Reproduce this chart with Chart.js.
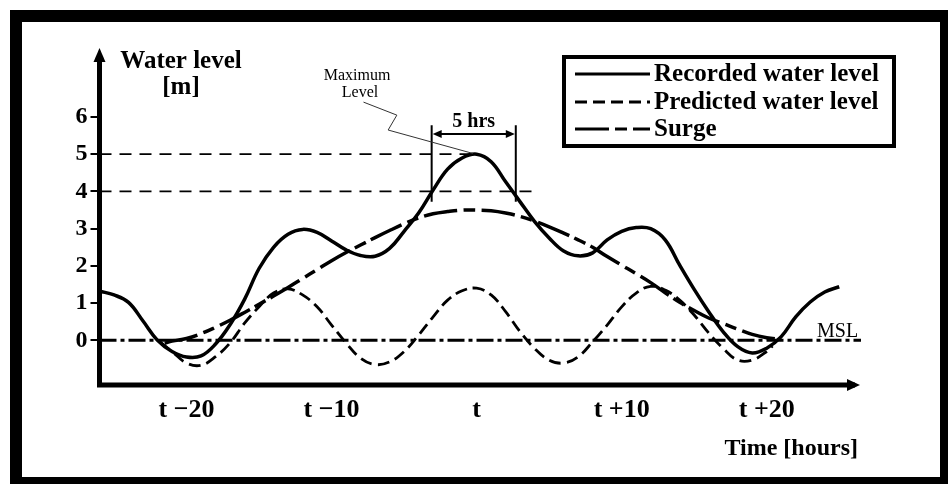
<!DOCTYPE html>
<html>
<head>
<meta charset="utf-8">
<script src="https://cdn.jsdelivr.net/npm/chart.js@4.4.1/dist/chart.umd.min.js"></script>
<style>
  html, body { margin: 0; padding: 0; background: #fff; }
  canvas { display: block; }
</style>
</head>
<body>
<canvas id="levelChart" width="948" height="484"></canvas>
<script>
// time in hours relative to t, levels in metres
const recordedHours = [-26, -25, -24, -23, -22, -21, -20, -19, -18, -17, -16, -15, -14, -13, -12, -11, -10, -9, -8, -7,
  -6, -5, -4, -3, -2, -1, 0, 1, 2, 3, 4, 5, 6, 7, 8, 9, 10, 11, 12, 13, 14, 15, 16, 17, 18, 19, 20, 21, 22, 23, 24, 25];
const recordedLevel = [1.32, 1.22, 1.02, 0.52, 0.0, -0.3, -0.45, -0.42, -0.1, 0.42, 1.1, 1.93, 2.5, 2.85, 2.98, 2.9, 2.67, 2.43, 2.28, 2.26,
  2.47, 2.93, 3.42, 4.04, 4.6, 4.9, 5.0, 4.8, 4.26, 3.72, 3.19, 2.75, 2.4, 2.27, 2.35, 2.7, 2.93, 3.03, 3.0, 2.7, 2.02, 1.37, 0.77, 0.23, -0.17, -0.34, -0.21, 0.1, 0.63, 1.03, 1.3, 1.44];

const tideHours = [-21.8, -21, -20, -19, -18, -17, -16, -15, -14, -13, -12, -11, -10, -9, -8, -7, -6, -5, -4, -3, -2, -1,
  0, 1, 2, 3, 4, 5, 6, 7, 8, 9, 10, 11, 12, 13, 14, 15, 16, 17, 18, 19, 20, 20.4];
const tideLevel = [-0.05, -0.3, -0.61, -0.67, -0.44, -0.07, 0.46, 0.9, 1.27, 1.38, 1.22, 0.9, 0.41, -0.07, -0.48, -0.65, -0.58, -0.3, 0.14, 0.63, 1.08, 1.33,
  1.4, 1.22, 0.77, 0.23, -0.22, -0.53, -0.61, -0.44, -0.04, 0.41, 0.9, 1.27, 1.45, 1.35, 1.08, 0.68, 0.2, -0.22, -0.53, -0.53, -0.3, -0.15];

const surgeHours = [-21.5, -21, -20, -19, -18, -17, -16, -15, -14, -13, -12, -11, -10, -9, -8, -7, -6, -5, -4, -3, -2, -1,
  0, 1, 2, 3, 4, 5, 6, 7, 8, 9, 10, 11, 12, 13, 14, 15, 16, 17, 18, 19, 20, 21];
const surgeLevel = [-0.08, -0.02, 0.05, 0.18, 0.35, 0.54, 0.75, 0.97, 1.19, 1.42, 1.66, 1.9, 2.14, 2.36, 2.56, 2.76, 2.95, 3.13, 3.29, 3.4, 3.46, 3.5,
  3.5, 3.48, 3.42, 3.33, 3.2, 3.05, 2.88, 2.7, 2.5, 2.25, 2.02, 1.79, 1.55, 1.28, 1.02, 0.8, 0.6, 0.45, 0.3, 0.16, 0.07, 0.02];

const mslHours = [-26, 26.5];
const peakLevel = 5;
const peakLineHours = [-26, 0];
const fourLevel = 4;
const fourLineHours = [-26, 3.9];
const aboveFourHours = [-3.1, 2.7];   // where the record crosses 4 m
const spanLevels = [3.72, 5.78];       // vertical extent of the span markers
const spanArrowLevel = 5.54;

const yTicks = [0, 1, 2, 3, 4, 5, 6];
const xTicks = [-20, -10, 0, 10, 20];
const xTickLabels = ['t \u221220', 't \u221210', 't', 't +10', 't +20'];

const serif = "'Liberation Serif', 'Times New Roman', serif";
const toPoints = (xs, ys) => xs.map((x, i) => ({ x, y: ys[i] }));

const datasets = [
    {
        label: 'Recorded water level',
        data: toPoints(recordedHours, recordedLevel),
        borderColor: '#000', borderWidth: 3.5, borderDash: [],
        tension: 0.4, pointRadius: 0
    },
    {
        label: 'Predicted water level',
        data: toPoints(tideHours, tideLevel),
        borderColor: '#000', borderWidth: 2.8, borderDash: [12, 6],
        tension: 0.4, pointRadius: 0
    },
    {
        label: 'Surge',
        data: toPoints(surgeHours, surgeLevel),
        borderColor: '#000', borderWidth: 3.5, borderDash: [34, 6, 12, 6],
        tension: 0.4, pointRadius: 0
    },
    {
        label: 'MSL',
        data: toPoints(mslHours, [0, 0]),
        borderColor: '#000', borderWidth: 3, borderDash: [17, 4, 4, 4],
        pointRadius: 0
    },
    {
        label: 'peak',
        data: toPoints(peakLineHours, [peakLevel, peakLevel]),
        borderColor: '#000', borderWidth: 1.8, borderDash: [12, 8],
        pointRadius: 0
    },
    {
        label: 'four',
        data: toPoints(fourLineHours, [fourLevel, fourLevel]),
        borderColor: '#000', borderWidth: 1.8, borderDash: [12, 8],
        pointRadius: 0
    },
    {
        label: 'spanStart',
        data: toPoints([aboveFourHours[0], aboveFourHours[0]], spanLevels),
        borderColor: '#000', borderWidth: 2, pointRadius: 0
    },
    {
        label: 'spanEnd',
        data: toPoints([aboveFourHours[1], aboveFourHours[1]], spanLevels),
        borderColor: '#000', borderWidth: 2, pointRadius: 0
    }
];

const legendCount = 3;

const arrowHead = (ctx, x, y, dx, dy, len, half) => {
    // filled triangle with its tip at (x, y) pointing along (dx, dy)
    ctx.beginPath();
    ctx.moveTo(x, y);
    ctx.lineTo(x - dx * len - dy * half, y - dy * len + dx * half);
    ctx.lineTo(x - dx * len + dy * half, y - dy * len - dx * half);
    ctx.closePath();
    ctx.fill();
};

const decor = {
    id: 'decor',
    beforeDraw(chart) {
        const { ctx, width, height } = chart;
        ctx.save();
        ctx.fillStyle = '#fff';
        ctx.fillRect(0, 0, width, height);
        ctx.fillStyle = '#000';
        ctx.fillRect(10, 10, width - 10, 12);
        ctx.fillRect(10, 10, 12, height - 10);
        ctx.fillRect(940, 10, width - 940, height - 10);
        ctx.fillRect(10, 477, width - 10, height - 477);
        ctx.restore();
    },
    afterDraw(chart) {
        const { ctx, chartArea: area } = chart;
        const xs = chart.scales.x, ys = chart.scales.y;
        ctx.save();
        ctx.fillStyle = '#000';
        ctx.strokeStyle = '#000';

        // axes with arrows
        ctx.lineWidth = 5;
        ctx.beginPath();
        ctx.moveTo(area.left, area.bottom + 2.5);
        ctx.lineTo(area.left, area.top + 6);
        ctx.moveTo(area.left - 2.5, area.bottom);
        ctx.lineTo(area.right - 6, area.bottom);
        ctx.stroke();
        arrowHead(ctx, area.left, area.top - 2, 0, -1, 14, 6);
        arrowHead(ctx, area.right - 1, area.bottom, 1, 0, 13, 6);

        // span arrow between the two markers
        const ax0 = xs.getPixelForValue(aboveFourHours[0]);
        const ax1 = xs.getPixelForValue(aboveFourHours[1]);
        const ay = ys.getPixelForValue(spanArrowLevel);
        ctx.lineWidth = 2;
        ctx.beginPath();
        ctx.moveTo(ax0 + 4, ay);
        ctx.lineTo(ax1 - 4, ay);
        ctx.stroke();
        arrowHead(ctx, ax0 + 1, ay, -1, 0, 9, 4);
        arrowHead(ctx, ax1 - 1, ay, 1, 0, 9, 4);

        // leader line to the maximum
        const leader = [[-7.8, 6.4], [-5.5, 6.05], [-6.1, 5.65], [-0.25, 5.02]];
        ctx.lineWidth = 1;
        ctx.strokeStyle = '#333';
        ctx.beginPath();
        leader.forEach(([h, v], i) => {
            const px = xs.getPixelForValue(h), py = ys.getPixelForValue(v);
            if (i === 0) ctx.moveTo(px, py); else ctx.lineTo(px, py);
        });
        ctx.stroke();
        ctx.strokeStyle = '#000';

        // legend
        ctx.lineWidth = 4;
        ctx.strokeRect(564, 57, 330, 89);
        const rows = [74, 102, 129];
        ctx.font = 'bold 25px ' + serif;
        ctx.textAlign = 'left';
        ctx.textBaseline = 'middle';
        chart.data.datasets.slice(0, legendCount).forEach((ds, i) => {
            ctx.lineWidth = 3;
            ctx.setLineDash(ds.borderDash);
            ctx.beginPath();
            ctx.moveTo(575, rows[i]);
            ctx.lineTo(650, rows[i]);
            ctx.stroke();
            ctx.setLineDash([]);
            ctx.fillText(ds.label, 654, rows[i] + 1);
        });

        // axis titles and notes
        ctx.textBaseline = 'alphabetic';
        ctx.textAlign = 'center';
        ctx.font = 'bold 25px ' + serif;
        ctx.fillText('Water level', 181, 68);
        ctx.fillText('[m]', 181, 94);
        ctx.textAlign = 'right';
        ctx.font = 'bold 24px ' + serif;
        ctx.fillText('Time [hours]', 858, 455);
        ctx.textAlign = 'left';
        ctx.font = '20px ' + serif;
        ctx.fillText('MSL', 817, 337);
        ctx.textAlign = 'center';
        ctx.font = '16px ' + serif;
        ctx.fillText('Maximum', 357, 80);
        ctx.fillText('Level', 360, 97);
        ctx.font = 'bold 20px ' + serif;
        ctx.fillText('5 hrs', (ax0 + ax1) / 2, 127);
        ctx.restore();
    }
};

new Chart(document.getElementById('levelChart'), {
    type: 'line',
    data: { datasets },
    options: {
        responsive: false,
        devicePixelRatio: 1,
        animation: false,
        events: [],
        layout: { padding: { left: 0, top: 50, right: 87, bottom: 0 } },
        plugins: { legend: { display: false }, tooltip: { enabled: false } },
        scales: {
            x: {
                type: 'linear',
                min: -26,
                max: 26.5,
                afterFit: s => { s.height = 99; },
                afterBuildTicks: s => { s.ticks = xTicks.map(v => ({ value: v })); },
                border: { display: false },
                grid: { display: false, drawTicks: false },
                ticks: {
                    autoSkip: false,
                    maxRotation: 0,
                    padding: 10,
                    color: '#000',
                    font: { family: serif, size: 26, weight: 'bold' },
                    callback: (v, i) => xTickLabels[i]
                }
            },
            y: {
                type: 'linear',
                min: -1.2,
                max: 7.8,
                afterFit: s => { s.width = 99.5; },
                afterBuildTicks: s => { s.ticks = yTicks.map(v => ({ value: v })); },
                border: { display: false },
                grid: { drawOnChartArea: false, drawTicks: true, tickLength: 9, color: '#000', lineWidth: 2 },
                ticks: {
                    padding: 3,
                    color: '#000',
                    font: { family: serif, size: 24, weight: 'bold' },
                    callback: v => String(v)
                }
            }
        }
    },
    plugins: [decor]
});
</script>
</body>
</html>
